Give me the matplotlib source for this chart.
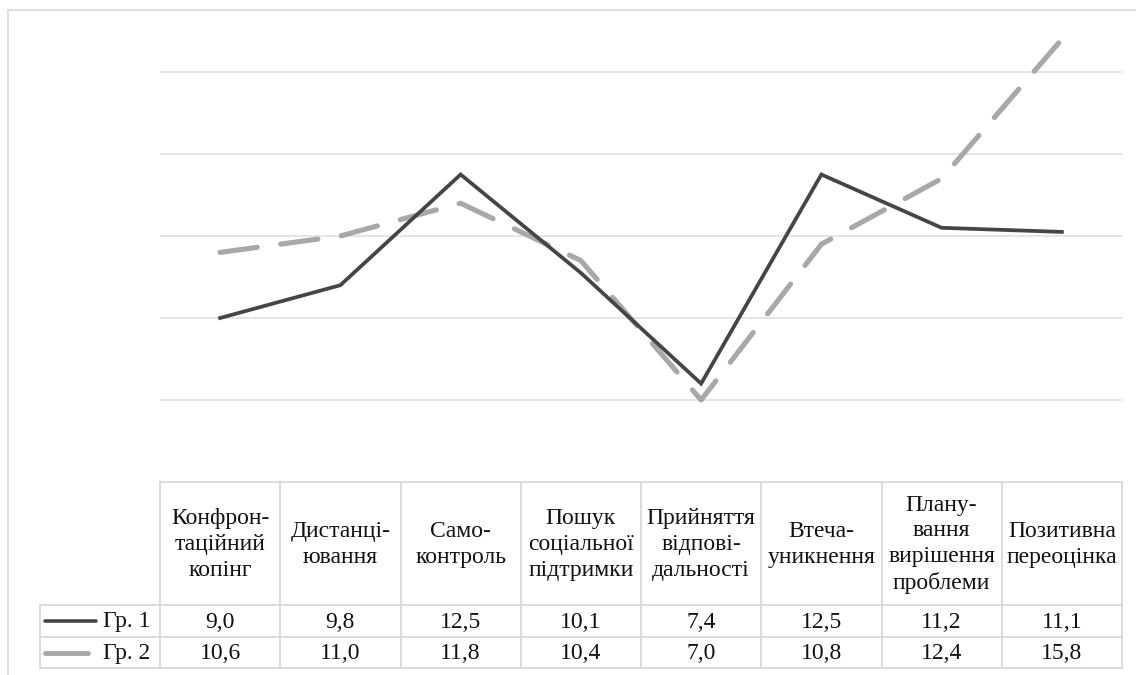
import matplotlib
matplotlib.use("Agg")
import matplotlib.pyplot as plt
import matplotlib.transforms as mtransforms
from matplotlib.lines import Line2D
from matplotlib.patches import Rectangle

plt.rcParams['font.family'] = ['Liberation Serif', 'DejaVu Serif']
plt.rcParams['lines.scale_dashes'] = False

categories = [
    "Конфрон-\nтаційний\nкопінг",
    "Дистанці-\nювання",
    "Само-\nконтроль",
    "Пошук\nсоціальної\nпідтримки",
    "Прийняття\nвідпові-\nдальності",
    "Втеча-\nуникнення",
    "Плану-\nвання\nвирішення\nпроблеми",
    "Позитивна\nпереоцінка",
]
series_names = ["Гр. 1", "Гр. 2"]
group1 = [9.0, 9.8, 12.5, 10.1, 7.4, 12.5, 11.2, 11.1]
group2 = [10.6, 11.0, 11.8, 10.4, 7.0, 10.8, 12.4, 15.8]
gridline_values = [7, 9, 11, 13, 15]

W, H = 1136, 675
fig = plt.figure(figsize=(W / 100, H / 100), dpi=100)
fig.patch.set_facecolor("white")

def fx(px):
    return px / W

def fy(py):
    return 1 - py / H

# outer chart frame
fig.patches.append(Rectangle((fx(8), fy(H + 10)), fx(W + 10), fy(10) - fy(H + 10),
                             transform=fig.transFigure, fill=False,
                             edgecolor="#d9d9d9", linewidth=1.2))

# plot area
ax_left, ax_right = 160, 1122
ax_top, ax_bottom = 31, 482
ax = fig.add_axes([fx(ax_left), fy(ax_bottom), fx(ax_right - ax_left), fy(ax_top) - fy(ax_bottom)])
ax.set_xlim(-0.5, len(categories) - 0.5)
ax.set_ylim(5, 16)
ax.set_facecolor("none")
for s in ax.spines.values():
    s.set_visible(False)
ax.set_xticks([])
ax.set_yticks([])

for g in gridline_values:
    ax.axhline(g, color="#e3e3e3", linewidth=1.3, zorder=0)

x = list(range(len(categories)))
ln1, = ax.plot(x, group1, color="#454545", linewidth=2.7, solid_joinstyle="miter", zorder=3)
ln2, = ax.plot(x, group2, color="#a8a8a8", linewidth=3.7,
               linestyle=(0, (27, 17)), dash_capstyle="round", zorder=2)

# data table beneath the plot, aligned with the category positions
tr = mtransforms.blended_transform_factory(ax.transData, fig.transFigure)
border = "#d9d9d9"
fs = 17
txt_color = "#111111"
n = len(categories)
row_hdr_top, row_hdr_bot = 482, 605
row1_bot, row2_bot = 637, 668
leg_left = -1.5

def hline(x0, x1, py):
    fig.add_artist(Line2D([x0, x1], [fy(py), fy(py)], transform=tr, color=border, linewidth=1.3))

def vline(xv, py0, py1):
    fig.add_artist(Line2D([xv, xv], [fy(py0), fy(py1)], transform=tr, color=border, linewidth=1.3))

hline(-0.5, n - 0.5, row_hdr_top)
hline(leg_left, n - 0.5, row_hdr_bot)
hline(leg_left, n - 0.5, row1_bot)
hline(leg_left, n - 0.5, row2_bot)
for i in range(n + 1):
    vline(i - 0.5, row_hdr_top, row2_bot)
vline(leg_left, row_hdr_bot, row2_bot)

for i, cat in enumerate(categories):
    fig.text(i, fy((row_hdr_top + row_hdr_bot) / 2 + 1), cat, transform=tr,
             ha="center", va="center", fontsize=fs, linespacing=1.3, color=txt_color)

for row_vals, (top, bot) in zip([group1, group2], [(row_hdr_bot, row1_bot), (row1_bot, row2_bot)]):
    for i, v in enumerate(row_vals):
        fig.text(i, fy((top + bot) / 2 + 1), f"{v:.1f}".replace(".", ","), transform=tr,
                 ha="center", va="center", fontsize=fs, color=txt_color)

# legend keys in the first column
for ln, name, (top, bot), x_end in zip([ln1, ln2], series_names,
                                        [(row_hdr_bot, row1_bot), (row1_bot, row2_bot)],
                                        [96, 88]):
    yc = fy((top + bot) / 2)
    fig.add_artist(Line2D([fx(45), fx(x_end)], [yc, yc], transform=fig.transFigure,
                          color=ln.get_color(), linewidth=ln.get_linewidth() * 0.95,
                          solid_capstyle="round"))
    fig.text(fx(150), fy((top + bot) / 2 + 1), name, ha="right", va="center",
             fontsize=fs, color=txt_color)

fig.savefig("out.png", dpi=100, facecolor="white")
